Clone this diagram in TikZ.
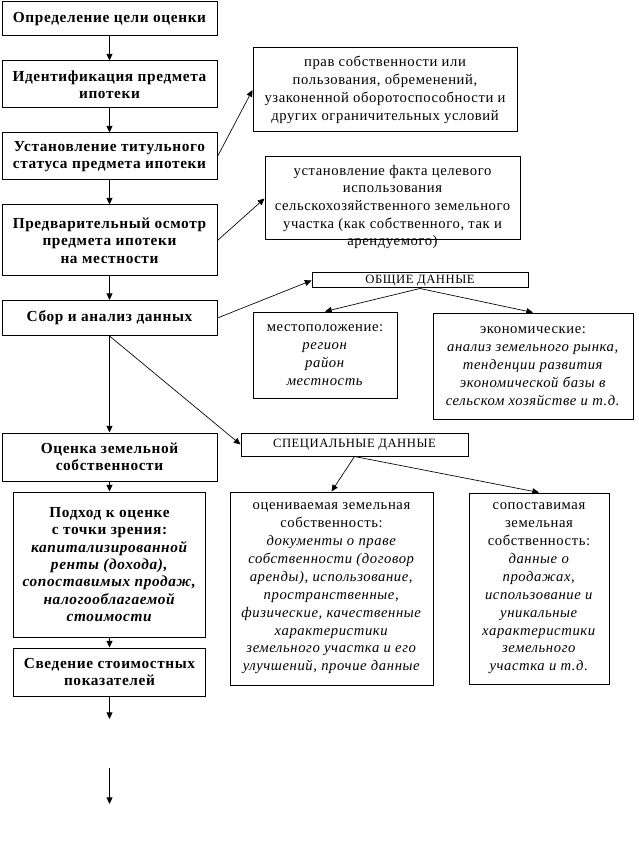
\documentclass[tikz,border=0pt]{standalone}
\usepackage{fontspec}
\setmainfont{Liberation Serif}[LetterSpace=4]
\usetikzlibrary{arrows.meta}
\begin{document}
\begin{tikzpicture}[x=0.75pt,y=-0.75pt,
  sz/.style 2 args={minimum width=#1*0.75pt, minimum height=#2*0.75pt},
  common/.style={inner sep=0pt, align=center, line width=0.75pt},
  lbox/.style={common, draw, font=\fontsize{11.5}{13}\selectfont\bfseries},
  rbox/.style={common, draw, font=\fontsize{11}{13.4}\selectfont},
  rtext/.style={common, font=\fontsize{11}{13.2}\selectfont},
  hbox/.style={inner sep=0pt, line width=0.75pt, draw, font=\fontsize{9.5}{11}\selectfont},
  arr/.style={-{Triangle[length=5pt,width=4.5pt]}, line width=0.75pt},
  darr/.style={-{Triangle[length=5pt,width=4.5pt]}, line width=0.5pt},
]
\useasboundingbox (0,0) rectangle (638,841);

% left column
\node[lbox, sz={215}{34}] (b1) at (109.5,19) {Определение цели оценки};
\node[lbox, sz={215}{47}] (b2) at (109.5,84.5) {Идентификация предмета\\ипотеки};
\node[lbox, sz={215}{47}] (b3) at (109.5,156.5) {Установление титульного\\статуса предмета ипотеки};
\node[lbox, sz={215}{71}] (b4) at (109.5,240.5) {Предварительный осмотр\\предмета ипотеки\\на местности};
\node[lbox, sz={215}{35}] (b5) at (109.5,318) {Сбор и анализ данных};
\node[lbox, sz={215}{48}] (b6) at (109.5,457) {Оценка земельной\\собственности};
\node[lbox, sz={192}{145}] (b7) at (109.5,564.5) {Подход к оценке\\с точки зрения:\\\textit{капитализированной}\\\textit{ренты (дохода),}\\\textit{сопоставимых продаж,}\\\textit{налогооблагаемой}\\\textit{стоимости}};
\node[lbox, sz={192}{48}] (b8) at (109.5,672) {Сведение стоимостных\\показателей};
\coordinate (c1) at (109.5,719);
\coordinate (c2) at (109.5,768);
\coordinate (c3) at (109.5,804);

% right side
\node[rbox, sz={264}{84}] (r1) at (385,90) {прав собственности или\\пользования, обременений,\\узаконенной оборотоспособности и\\других ограничительных условий};
\node[common, draw, sz={255}{83}] (r2) at (392.5,198.5) {};
\node[rtext] (r2t) at (392.5,207) {установление факта целевого\\использования\\сельскохозяйственного земельного\\участка (как собственного, так и\\арендуемого)};
\node[hbox, sz={216}{15}] (o) at (420,280.5) {ОБЩИЕ ДАННЫЕ};
\node[rbox, sz={144}{86}] (m) at (325,355) {местоположение:\\\textit{регион}\\\textit{район}\\\textit{местность}};
\node[rbox, sz={200}{106}] (e) at (533,366) {экономические:\\\textit{анализ земельного рынка,}\\\textit{тенденции развития}\\\textit{экономической базы в}\\\textit{сельском хозяйстве и т.д.}};
\node[hbox, sz={227}{23}] (s) at (354.5,444.5) {СПЕЦИАЛЬНЫЕ ДАННЫЕ};
\node[rbox, sz={203}{193}] (ov) at (331.5,588.5) {оцениваемая земельная\\собственность:\\\textit{документы о праве}\\\textit{собственности (договор}\\\textit{аренды), использование,}\\\textit{пространственные,}\\\textit{физические, качественные}\\\textit{характеристики}\\\textit{земельного участка и его}\\\textit{улучшений, прочие данные}};
\node[rbox, sz={140}{191}] (sp) at (539,588.5) {сопоставимая\\земельная\\собственность:\\\textit{данные о}\\\textit{продажах,}\\\textit{использование и}\\\textit{уникальные}\\\textit{характеристики}\\\textit{земельного}\\\textit{участка и т.д.}};

% connectors
\draw[arr] (b1) -- (b2);
\draw[arr] (b2) -- (b3);
\draw[arr] (b3) -- (b4);
\draw[arr] (b4) -- (b5);
\draw[arr] (b5.south) -- (b6.north);
\draw[arr] (b6) -- (b7);
\draw[arr] (b7) -- (b8);
\draw[arr] (b8) -- (c1);
\draw[arr] (c2) -- (c3);
\draw[darr] (b3.east) -- (r1.west);
\draw[darr] (b4.east) -- (r2.west);
\draw[darr] (b5.east) -- (o.west);
\draw[darr] (o.south) -- (m.north);
\draw[darr] (o.south) -- (e.north);
\draw[darr] (b5.south) -- (s.west);
\draw[darr] (s.south) -- (ov.north);
\draw[darr] (s.south) -- (sp.north);
\end{tikzpicture}
\end{document}
